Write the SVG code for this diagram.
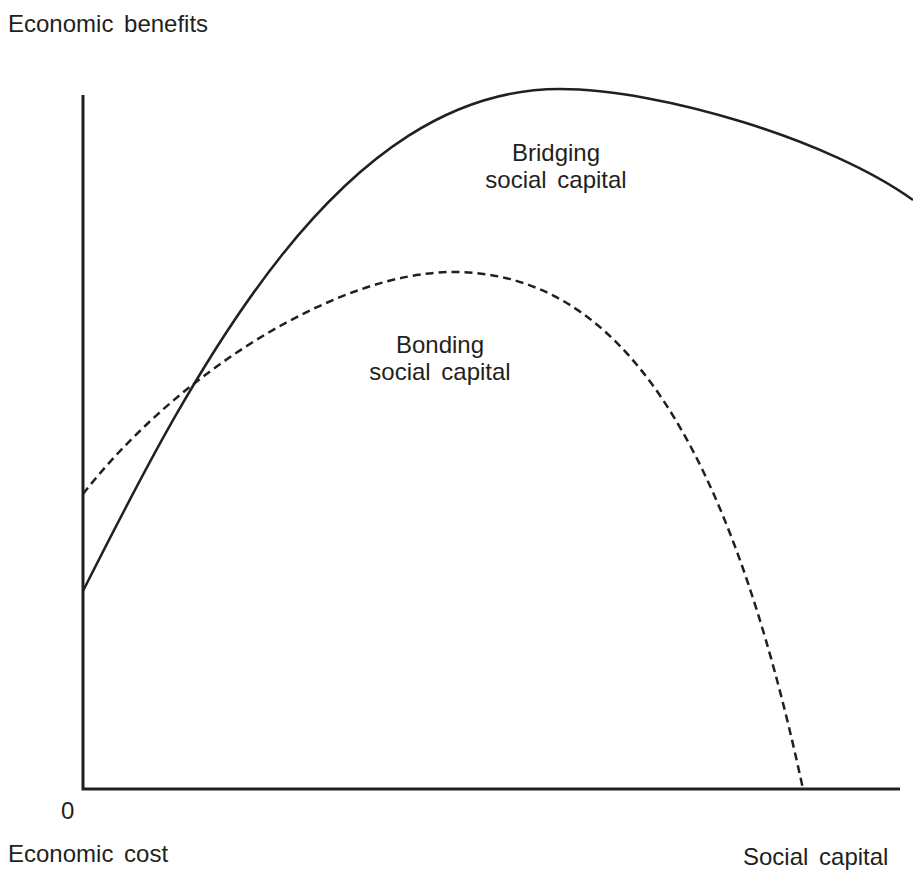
<svg xmlns="http://www.w3.org/2000/svg" width="913" height="871" viewBox="0 0 913 871">
<style>
text{font-family:"Liberation Sans",Arial,sans-serif;font-size:24px;fill:#231f20;word-spacing:4px}
.c{text-anchor:middle}
.ax{fill:none;stroke:#231f20;stroke-width:3}
.sol{fill:none;stroke:#231f20;stroke-width:2.5}
.dash{fill:none;stroke:#231f20;stroke-width:2.5;stroke-dasharray:8 5}
</style>
<rect width="913" height="871" fill="#fff"/>
<g id="axes">
<path class="ax" d="M83 95 L83 789 L900 789"/>
</g>
<g id="connectors">
<path id="bridging-curve" class="sol" d="M83 591 C197 365 340 89 560 89 C660 89 830 140 913 200"/>
<path id="bonding-curve" class="dash" d="M83 494 C180 370 340 272 453 272 C620 272 728 439 803 789"/>
</g>
<g id="labels">
<text x="8" y="32">Economic benefits</text>
<text x="61" y="819">0</text>
<text x="8" y="862">Economic cost</text>
<text x="743" y="865">Social capital</text>
</g>
<g id="bridging-label">
<text class="c" x="556" y="161">Bridging</text>
<text class="c" x="556" y="188">social capital</text>
</g>
<g id="bonding-label">
<text class="c" x="440" y="353">Bonding</text>
<text class="c" x="440" y="380">social capital</text>
</g>
</svg>
